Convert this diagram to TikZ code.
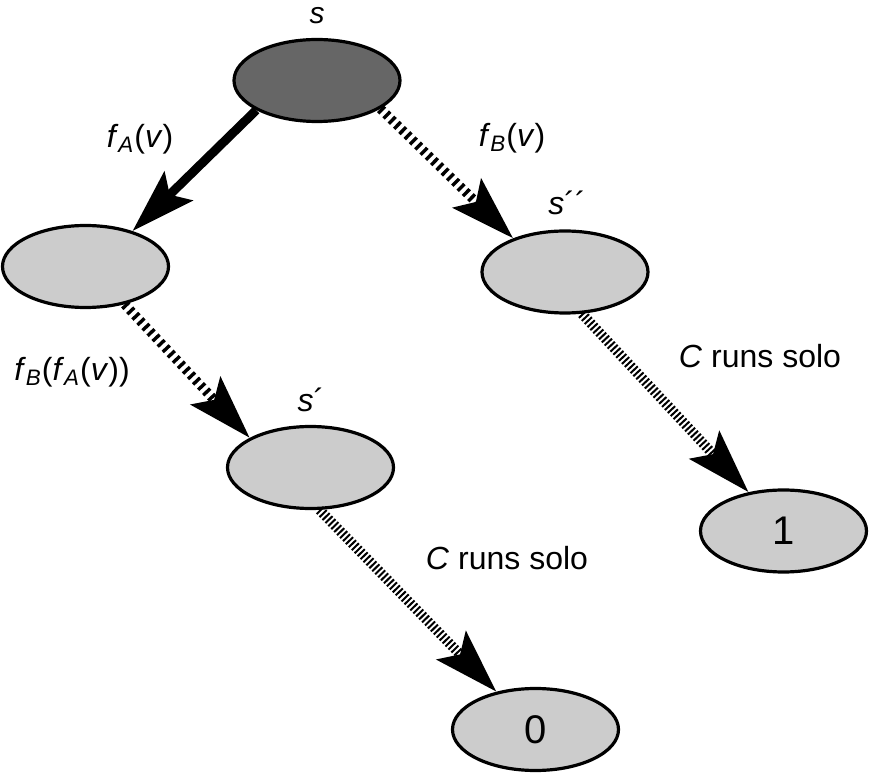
\documentclass[tikz,border=0pt]{standalone}
\usepackage{fontspec}
\setmainfont{Liberation Sans}
\usetikzlibrary{shapes.geometric,arrows.meta}
\tikzset{
  statenode/.style={ellipse, draw, line width=1.6pt, fill=gray!40, minimum width=83pt, minimum height=41pt, inner sep=0pt},
  arrowhd/.style={-{Stealth[length=32pt, width=20pt, inset=6pt]}},
}
\newcommand{\fsub}[1]{\textit{f}\textsubscript{\textit{#1}}}
\begin{document}
\begin{tikzpicture}[x=0.5pt, y=-0.5pt, font=\fontsize{16}{19}\selectfont,
  solidarr/.style={arrowhd, line width=4.5pt},
  hatch/.style={arrowhd, line width=4.8pt, dash pattern=on 1.7pt off 2pt},
  solo/.style={arrowhd, line width=5pt, dash pattern=on 1pt off 1.1pt}]
  \useasboundingbox (0,0) rectangle (869,775);
  % states
  \node[statenode, fill=black!60] (s) at (317,80.5) {};
  \node[statenode] (fa) at (85.5,266.5) {};
  \node[statenode] (sbb) at (565,272) {};
  \node[statenode] (sb) at (310.5,467.5) {};
  \node[statenode, font=\fontsize{20}{24}\selectfont] (one) at (783.5,531) {1};
  \node[statenode, font=\fontsize{20}{24}\selectfont] (zero) at (535.5,729.5) {0};
  % state names
  \node[inner sep=0pt, font=\fontsize{15}{17}\selectfont] (ls) at (317,16) {\textit{s}};
  \node (lsbb) at (567,203) {\textit{s}´´};
  \node (lsb) at (311,400) {\textit{s}´};
  % moves
  \draw[solidarr] (s.206) -- (fa.37);
  \draw[hatch] (s.336) -- (sbb.147);
  \draw[hatch] (fa.316) -- (sb.154);
  \draw[solo] (sbb.292) -- (one.132);
  \draw[solo] (sb.282) -- (zero.136);
  \node (fav) at (140,139) {\fsub{A}(\textit{v})};
  \node (fbv) at (512,138) {\fsub{B}(\textit{v})};
  \node (fbfav) at (72,372) {\fsub{B}(\fsub{A}(\textit{v}))};
  \node (solo1) at (760,356) {\textit{C} runs solo};
  \node (solo0) at (507,558) {\textit{C} runs solo};
\end{tikzpicture}
\end{document}
